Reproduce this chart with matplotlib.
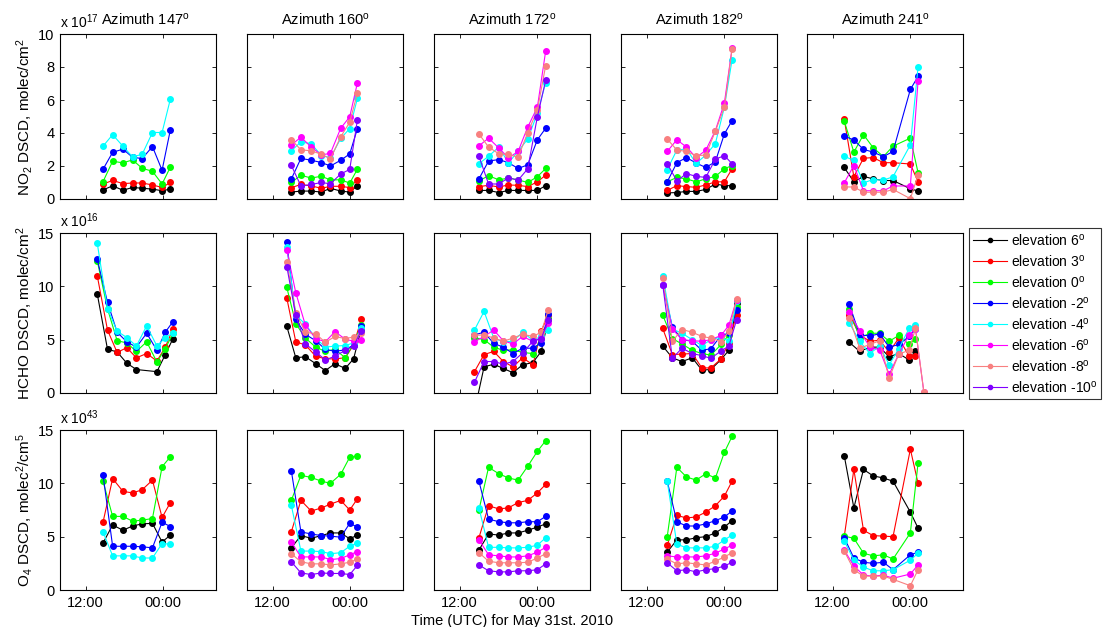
import numpy as np
import matplotlib
matplotlib.use('Agg')
import matplotlib.pyplot as plt

plt.rcParams['font.family'] = ['Liberation Sans', 'DejaVu Sans']
plt.rcParams['mathtext.fontset'] = 'custom'
plt.rcParams['mathtext.rm'] = 'Liberation Sans'
plt.rcParams['mathtext.it'] = 'Liberation Sans:italic'

nan = np.nan

azimuths = [147, 160, 172, 182, 241]
elevations = [6, 3, 0, -2, -4, -6, -8, -10]
colors = ['#000000', '#ff0000', '#00ff00', '#0000ff', '#00ffff',
          '#ff00ff', '#f88080', '#8000ff']

# measurement times in hours since 00:00 May 31 (24 = midnight)
t_147 = [14.7, 16.2, 17.8, 19.3, 20.8, 22.4, 23.9, 25.2]
t_160 = [14.9, 16.4, 18.0, 19.6, 21.0, 22.6, 24.0, 25.2]
t_172 = [15.0, 16.5, 18.1, 19.6, 21.1, 22.6, 24.1, 25.4]
t_182 = [15.2, 16.7, 18.2, 19.7, 21.2, 22.7, 24.1, 25.3]
t_241 = [13.8, 15.3, 16.8, 18.3, 19.9, 21.4, 24.1, 25.3]

th_147 = [13.8, 15.4, 16.9, 18.4, 19.9, 21.5, 23.1, 24.4, 25.6]
th_160 = [14.2, 15.6, 17.1, 18.7, 20.2, 21.7, 23.3, 24.6, 25.8]
th_172 = [14.3, 15.8, 17.3, 18.8, 20.3, 21.8, 23.4, 24.7, 25.8]
th_182 = [14.5, 16.0, 17.5, 19.1, 20.6, 22.0, 23.6, 24.8, 26.0]
th_241 = [14.6, 16.2, 17.8, 19.3, 20.8, 22.3, 23.9, 24.9, 26.2]

# NO2 DSCD, 1e17 molec/cm2, one row per elevation (6, 3, 0, -2, -4, -6, -8, -10)
no2_147 = [
    [0.55, 0.80, 0.53, 0.70, 0.65, 0.60, 0.50, 0.60],
    [0.90, 1.13, 0.93, 0.97, 0.97, 0.85, 0.70, 1.00],
    [1.05, 2.29, 2.19, 2.37, 1.86, 1.68, 0.91, 1.94],
    [1.80, 2.83, 3.02, 2.53, 2.45, 3.18, 1.74, 4.21],
    [3.20, 3.90, 3.20, 2.55, 2.71, 4.03, 4.03, 6.07],
    None, None, None,
]
no2_160 = [
    [0.42, 0.48, 0.48, 0.42, 0.65, 0.48, 0.42, 0.81],
    [0.69, 0.88, 0.79, 0.65, 0.77, 0.77, 0.69, 1.17],
    [1.00, 1.44, 1.27, 1.38, 1.15, 1.17, 0.96, 1.81],
    [1.21, 2.46, 2.35, 2.21, 2.00, 2.35, 2.73, 4.27],
    [2.92, 3.46, 3.35, 2.63, 2.50, 3.67, 4.27, 6.10],
    [3.27, 3.75, 3.15, 2.67, 2.77, 4.29, 4.98, 7.04],
    [3.60, 2.98, 2.92, 2.71, 2.44, 3.77, 4.65, 6.42],
    [2.04, 0.79, 0.88, 1.00, 0.92, 1.52, 1.79, 4.79],
]
no2_172 = [
    [0.52, 0.52, 0.39, 0.52, 0.52, 0.52, 0.52, 0.81],
    [0.75, 0.83, 0.73, 0.85, 0.83, 0.75, 1.04, 1.45],
    [1.10, 1.41, 1.16, 1.27, 1.16, 1.00, 1.35, 1.85],
    [1.22, 2.30, 2.39, 2.20, 1.85, 2.07, 3.59, 4.29],
    [2.14, 2.59, 3.15, 2.18, 2.90, 3.63, 5.19, 7.05],
    [3.22, 3.69, 3.09, 2.49, 2.88, 4.36, 5.56, 8.98],
    [3.94, 3.15, 2.74, 2.70, 2.53, 4.02, 5.39, 8.09],
    [2.59, 0.91, 0.91, 1.29, 1.14, 1.83, 4.98, 7.20],
]
no2_182 = [
    [0.37, 0.39, 0.46, 0.46, 0.58, 0.91, 0.81, 0.81],
    [0.52, 0.81, 0.75, 0.71, 0.85, 1.04, 1.04, 1.83],
    [1.04, 1.31, 1.22, 1.04, 1.22, 1.37, 1.83, 2.03],
    [1.04, 2.20, 2.51, 2.18, 1.91, 2.26, 3.94, 4.75],
    [1.78, 2.97, 3.03, 2.16, 2.66, 3.36, 5.56, 8.44],
    [2.88, 3.59, 3.15, 2.51, 2.95, 4.15, 5.81, 9.13],
    [3.63, 2.97, 2.88, 2.63, 2.66, 4.11, 5.56, 9.10],
    [2.14, 1.10, 1.54, 1.37, 1.31, 2.41, 2.63, 2.14],
]
no2_241 = [
    [1.91, 1.04, 1.37, 1.22, 1.12, 1.12, 0.62, 0.48],
    [4.83, 1.35, 2.47, 2.51, 2.20, 2.20, 2.12, 1.04],
    [4.73, 2.84, 3.90, 3.11, 2.57, 3.20, 3.69, 1.60],
    [3.82, 3.57, 3.01, 2.84, 2.57, 2.88, 6.64, 7.43],
    [2.59, 2.34, 0.98, 1.18, 1.14, 1.35, 3.28, 7.99],
    [0.98, 2.03, 0.50, 0.50, 0.50, 0.79, 0.79, 7.16],
    [0.73, 0.73, 0.41, 0.41, 0.41, 0.58, 0.02, 1.45],
    None,
]

# HCHO DSCD, 1e16 molec/cm2
hcho_147 = [
    [9.3, 4.1, 3.85, 2.8, 2.2, nan, 2.0, 3.6, 5.1],
    [11.0, 5.9, 3.8, 4.25, 3.3, 3.7, 3.0, 4.3, 6.0],
    [12.4, 7.9, 4.9, 4.7, 3.9, 4.8, 2.9, 4.15, 5.6],
    [12.55, 8.5, 5.7, 4.8, 4.3, 5.6, 4.0, 5.7, 6.7],
    [14.05, 7.9, 5.8, 5.2, 4.4, 6.3, 4.4, 5.2, 5.6],
    None, None, None,
]
hcho_160 = [
    [6.25, 3.3, 3.4, 2.75, 2.1, 2.75, 2.3, 3.2, 6.0],
    [8.9, 4.8, 4.5, 3.45, 3.2, 3.2, 3.3, 4.5, 6.9],
    [9.9, 6.5, 5.15, 4.3, 3.9, 4.1, 3.3, 4.6, 6.4],
    [14.15, 6.9, 5.5, 4.9, 4.1, 3.9, 4.05, 4.5, 6.25],
    [13.65, 7.3, 6.45, 5.15, 4.3, 4.4, 4.45, 4.7, 6.1],
    [13.4, 9.4, 6.35, 5.1, 4.8, 5.75, 5.05, 4.85, 4.95],
    [12.3, 7.5, 5.7, 5.55, 4.75, 5.3, 5.1, 5.25, 5.6],
    [11.85, 7.3, 4.6, 3.85, 3.1, 3.45, 4.0, 4.4, 5.85],
]
hcho_172 = [
    [-1.7, 2.45, 2.7, 2.3, 1.9, 2.65, 2.85, 3.9, 6.9],
    [2.0, 3.6, 3.9, 2.95, 2.45, 3.3, 2.65, 5.8, 7.35],
    [5.2, 5.0, 4.3, 4.0, 4.05, 3.8, 3.7, 5.15, 6.9],
    [5.45, 5.7, 4.65, 4.3, 3.7, 4.2, 4.2, 4.7, 7.45],
    [5.9, 7.65, 5.15, 4.8, 4.85, 5.7, 4.95, 5.3, 5.9],
    [4.8, 5.3, 5.9, 4.9, 4.6, 5.3, 4.85, 5.15, 6.55],
    [5.4, 5.45, 5.15, 4.85, 5.15, 5.5, 5.3, 5.7, 7.8],
    [1.0, 2.95, 2.95, 2.7, 2.95, 3.75, 4.85, 5.1, 6.85],
]
hcho_182 = [
    [4.4, 3.3, 2.95, 3.3, 2.15, 2.2, 3.15, 4.0, 8.4],
    [6.05, 3.6, 3.65, 3.7, 2.35, 2.35, 3.2, 4.7, 7.35],
    [7.3, 5.1, 4.6, 4.0, 3.7, 3.55, 4.55, 5.45, 8.05],
    [10.15, 6.2, 5.0, 4.85, 4.0, 4.15, 5.4, 5.6, 7.8],
    [11.0, 6.0, 5.6, 5.0, 4.45, 5.0, 5.25, 4.85, 8.6],
    [10.15, 6.0, 5.0, 4.9, 4.85, 5.0, 5.4, 6.35, 8.75],
    [10.75, 4.85, 5.95, 5.7, 5.3, 5.15, 4.8, 5.8, 8.8],
    [10.15, 3.25, 4.2, 3.7, 3.5, 3.25, 3.95, 4.4, 6.85],
]
hcho_241 = [
    [4.75, 3.9, 4.3, 4.3, 3.4, 3.7, 3.1, 3.9, nan],
    [7.35, 5.45, 4.85, 4.95, 3.85, 5.15, 3.45, 3.5, nan],
    [7.9, 5.15, 5.6, 5.6, 4.85, 5.4, 4.55, 5.1, nan],
    [8.3, 5.45, 5.35, 5.55, 4.3, 4.55, 5.3, 6.0, nan],
    [6.55, 4.85, 3.7, 4.4, 2.65, 4.15, 6.05, 6.35, nan],
    [7.55, 5.85, 4.3, 4.05, 1.75, 3.65, 5.45, 6.0, 0.1],
    [7.0, 4.2, 4.55, 4.9, 1.4, 3.65, 4.0, 6.05, 0.1],
    None,
]

# O4 DSCD, 1e43 molec2/cm5
o4_147 = [
    [4.4, 6.1, 5.6, 6.0, 6.2, 6.25, 4.5, 5.15],
    [6.35, 10.45, 9.25, 9.1, 9.4, 10.3, 6.8, 8.2],
    [10.2, 6.9, 6.9, 6.45, 6.55, 6.7, 11.55, 12.5],
    [10.8, 4.1, 4.1, 4.1, 4.05, 3.95, 6.35, 5.95],
    [5.45, 3.2, 3.2, 3.2, 3.0, 3.0, 4.35, 4.3],
    None, None, None,
]
o4_160 = [
    [3.95, 5.1, 4.85, 5.1, 5.35, 5.35, 4.8, 5.15],
    [5.45, 8.4, 7.4, 7.7, 8.05, 8.4, 7.5, 8.55],
    [8.4, 10.75, 10.55, 10.2, 10.0, 10.85, 12.45, 12.55],
    [11.2, 5.45, 5.25, 5.1, 5.05, 4.95, 6.25, 5.9],
    [7.95, 3.65, 3.65, 3.6, 3.4, 3.5, 4.1, 4.4],
    [4.5, 3.1, 3.1, 3.1, 2.85, 2.95, 3.3, 3.6],
    [3.4, 2.65, 2.45, 2.45, 2.35, 2.45, 2.6, 2.9],
    [2.65, 1.6, 1.45, 1.6, 1.55, 1.55, 1.45, 2.3],
]
o4_172 = [
    [3.75, 5.25, 5.15, 5.35, 5.35, 5.6, 5.9, 6.2],
    [4.9, 7.9, 7.6, 7.7, 8.2, 8.4, 9.1, 9.9],
    [7.5, 11.5, 10.9, 10.5, 10.3, 11.6, 13.0, 14.0],
    [10.2, 6.65, 6.4, 6.3, 6.3, 6.4, 6.4, 6.9],
    [7.7, 4.0, 4.0, 3.95, 3.95, 4.0, 4.2, 4.9],
    [4.7, 3.3, 3.2, 3.1, 3.1, 3.2, 3.55, 4.0],
    [3.5, 2.7, 2.55, 2.55, 2.55, 2.6, 3.0, 3.4],
    [2.35, 1.8, 1.7, 1.7, 1.8, 1.8, 1.9, 2.45],
]
o4_182 = [
    [3.55, 4.7, 4.7, 4.9, 5.0, 5.35, 5.9, 6.5],
    [4.2, 7.0, 6.75, 6.85, 7.3, 7.9, 8.8, 10.2],
    [5.0, 11.5, 10.6, 10.3, 10.9, 10.5, 12.9, 14.4],
    [10.2, 6.4, 6.0, 6.0, 6.2, 6.5, 6.85, 7.4],
    [10.2, 4.3, 3.95, 3.95, 3.95, 4.1, 4.7, 5.15],
    [3.2, 3.1, 3.1, 3.1, 3.2, 3.45, 3.85, 4.2],
    [2.9, 2.45, 2.55, 2.45, 2.35, 2.7, 3.1, 3.5],
    [2.55, 1.8, 1.9, 1.7, 1.9, 2.0, 2.25, 2.6],
]
o4_241 = [
    [12.6, 7.7, 11.3, 10.7, 10.5, 10.2, 7.3, 5.8],
    [5.0, 11.3, 5.6, 5.1, 5.05, 5.0, 13.2, 10.0],
    [5.05, 4.85, 3.45, 3.2, 3.3, 2.9, 5.35, 11.9],
    [4.9, 3.0, 2.6, 2.5, 2.6, 1.9, 3.3, 3.55],
    [4.6, 2.8, 2.15, 1.8, 1.8, 1.9, 2.8, 3.45],
    [3.75, 2.25, 1.4, 1.3, 1.4, 1.1, 1.5, 2.35],
    [3.65, 1.9, 1.3, 1.3, 1.3, 1.0, 0.4, 1.9],
    None,
]

no2_times = [t_147, t_160, t_172, t_182, t_241]
hcho_times = [th_147, th_160, th_172, th_182, th_241]
no2_sets = [no2_147, no2_160, no2_172, no2_182, no2_241]
hcho_sets = [hcho_147, hcho_160, hcho_172, hcho_182, hcho_241]
o4_sets = [o4_147, o4_160, o4_172, o4_182, o4_241]

W, H = 1106, 627
fig = plt.figure(figsize=(W / 100, H / 100), dpi=100)

col_left = [60, 247, 434, 621, 807]
ax_w = 156
rows = [(34, 165), (233, 160), (430, 160)]  # (top, height) in pixels

rows_cfg = [
    dict(sets=no2_sets, times=no2_times, ylim=(0, 10), yticks=[0, 2, 4, 6, 8, 10],
         ylabel='NO$_2$ DSCD, molec/cm$^2$', exp='17'),
    dict(sets=hcho_sets, times=hcho_times, ylim=(0, 15), yticks=[0, 5, 10, 15],
         ylabel='HCHO DSCD, molec/cm$^2$', exp='16'),
    dict(sets=o4_sets, times=no2_times, ylim=(0, 15), yticks=[0, 5, 10, 15],
         ylabel='O$_4$ DSCD, molec$^2$/cm$^5$', exp='43'),
]

handles = []
for r, cfg in enumerate(rows_cfg):
    top, h = rows[r]
    for c in range(5):
        ax = fig.add_axes([col_left[c] / W, 1 - (top + h) / H, ax_w / W, h / H])
        t = np.asarray(cfg['times'][c], float)
        for k, ys in enumerate(cfg['sets'][c]):
            if ys is None:
                continue
            y = np.asarray(ys, float)
            ok = np.isfinite(y)
            ln, = ax.plot(t[ok], y[ok], '-o', color=colors[k], lw=0.8,
                          ms=4, mec=colors[k])
            if r == 1 and c == 1:
                handles.append(ln)
        ax.set_xlim(8, 32.3)
        ax.set_ylim(*cfg['ylim'])
        ax.set_xticks([12, 24])
        ax.set_yticks(cfg['yticks'])
        ax.tick_params(direction='in', top=True, right=True, length=3,
                       width=0.6, labelsize=10.5, pad=4)
        for s in ax.spines.values():
            s.set_linewidth(0.8)
        if r == 2:
            ax.set_xticklabels(['12:00', '00:00'])
        else:
            ax.set_xticklabels([])
        if c == 0:
            ax.set_ylabel(cfg['ylabel'], fontsize=11, labelpad=2)
            ax.text(0.0, 1.02, r'x 10$^{%s}$' % cfg['exp'], transform=ax.transAxes,
                    fontsize=10, ha='left', va='bottom')
        else:
            ax.set_yticklabels([])
        if r == 0:
            # first title sits just right of the exponent label
            ax.set_title('Azimuth %d$^{\\rm o}$' % azimuths[c], fontsize=10.5, pad=7,
                         x=0.545 if c == 0 else 0.5)

labels = ['elevation %d$^{\\rm o}$' % e for e in elevations]
leg = fig.legend(handles, labels, loc='upper left',
                 bbox_to_anchor=(969 / W, 1 - 228 / H), fontsize=10,
                 frameon=True, fancybox=False, edgecolor='black',
                 handlelength=2.4, handletextpad=0.3, labelspacing=0.36,
                 borderpad=0.3, borderaxespad=0)
leg.get_frame().set_linewidth(0.8)
for ln in leg.get_lines():
    ln.set_markersize(3)

fig.text(512 / W, 1 - 621 / H, 'Time (UTC) for May 31st. 2010', fontsize=10.5,
         ha='center', va='center')

fig.savefig('out.png', dpi=100)
